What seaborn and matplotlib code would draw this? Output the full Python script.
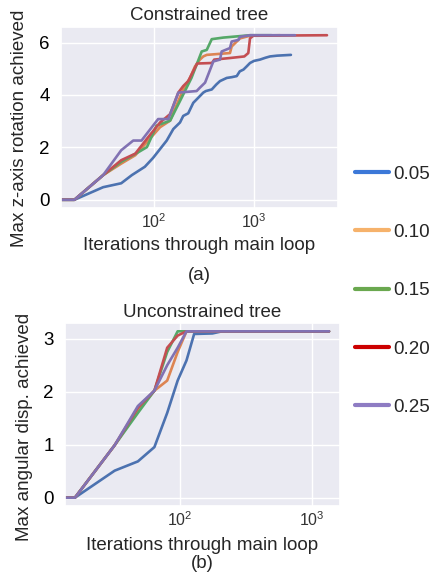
import numpy as np
import pandas as pd
import seaborn as sns
import matplotlib.pyplot as plt
from matplotlib.lines import Line2D

# step sizes
steps = ["0.05", "0.10", "0.15", "0.20", "0.25"]

# (a) constrained tree: iterations / max z-axis rotation
a_it_05 = [1, 16, 31, 47, 60, 81, 98, 134, 156, 182, 196, 220, 247, 270, 311, 330, 378, 420, 457,
           534, 600, 672, 720, 785, 850, 912, 1000, 1148, 1300, 1445, 1700, 2340]
a_val_05 = [0, 0, 0.48, 0.63, 0.94, 1.26, 1.6, 2.26, 2.7, 2.95, 3.2, 3.3, 3.7, 3.85, 4.09, 4.15, 4.21, 4.4, 4.53,
            4.65, 4.68, 4.72, 4.9, 4.97, 5.1, 5.22, 5.3, 5.35, 5.42, 5.47, 5.5, 5.53]
a_it_10 = [1, 16, 31, 47, 65, 85, 115, 145, 175, 196, 229, 257, 288, 311, 337, 575, 598, 672, 724, 912, 1820]
a_val_10 = [0, 0, 0.94, 1.38, 1.70, 2.2, 2.77, 3.02, 3.77, 4.21, 4.65, 5.09, 5.35, 5.47, 5.53, 5.6, 5.85, 6.04,
            6.16, 6.26, 6.28]
a_it_15 = [1, 16, 31, 47, 70, 85, 106, 145, 182, 237, 267, 300, 337, 378, 493, 912, 1500]
a_val_15 = [0, 0, 0.94, 1.45, 1.82, 2.01, 2.83, 3.02, 3.77, 4.65, 5.16, 5.66, 5.72, 6.13, 6.19, 6.28, 6.28]
a_it_20 = [1, 16, 31, 47, 65, 85, 115, 145, 175, 196, 220, 247, 270, 380, 400, 575, 800, 877, 912, 984, 5370]
a_val_20 = [0, 0, 0.94, 1.51, 1.76, 2.33, 2.95, 3.27, 4.09, 4.34, 4.53, 4.91, 5.2, 5.22, 5.35, 5.41, 5.47, 5.6,
            6.16, 6.26, 6.28]
a_it_25 = [1, 16, 31, 47, 62, 75, 110, 139, 175, 267, 288, 324, 392, 457, 475, 575, 598, 697, 724, 912, 2570]
a_val_25 = [0, 0, 0.94, 1.89, 2.26, 2.26, 3.08, 3.08, 4.09, 4.15, 4.28, 4.47, 5.28, 5.35, 5.66, 5.79, 6.04, 6.1,
            6.22, 6.28, 6.28]

# (b) unconstrained tree: iterations / max angular displacement
b_it_05 = [1, 16, 32, 48, 64, 80, 96, 112, 128, 176, 208, 1345]
b_val_05 = [0, 0, 0.51, 0.685, 0.955, 1.6, 2.21, 2.59, 3.09, 3.1, 3.14, 3.14]
b_it_10 = [1, 16, 32, 48, 64, 80, 96, 112, 1345]
b_val_10 = [0, 0, 0.99, 1.65, 2.02, 2.21, 2.75, 3.14, 3.14]
b_it_15 = [1, 16, 32, 48, 64, 80, 96, 1345]
b_val_15 = [0, 0, 0.99, 1.6, 2.02, 2.75, 3.14, 3.14]
b_it_20 = [1, 16, 32, 48, 64, 80, 96, 112, 1345]
b_val_20 = [0, 0, 0.99, 1.7, 2.02, 2.83, 3.06, 3.14, 3.14]
b_it_25 = [1, 16, 32, 48, 64, 80, 96, 112, 1345]
b_val_25 = [0, 0, 0.99, 1.73, 2.02, 2.5, 2.83, 3.14, 3.14]

legend_colors = ["#3c78d8", "#f6b26b", "#6aa84f", "#cc0000", "#8e7cc3"]


def long_df(its, vals):
    frames = []
    for s, x, y in zip(steps, its, vals):
        frames.append(pd.DataFrame({"it": x, "val": y, "step": s}))
    return pd.concat(frames, ignore_index=True)


df_a = long_df([a_it_05, a_it_10, a_it_15, a_it_20, a_it_25],
               [a_val_05, a_val_10, a_val_15, a_val_20, a_val_25])
df_b = long_df([b_it_05, b_it_10, b_it_15, b_it_20, b_it_25],
               [b_val_05, b_val_10, b_val_15, b_val_20, b_val_25])

sns.set_theme(style="darkgrid")
plt.rcParams["font.family"] = ["Liberation Sans", "DejaVu Sans"]
fs = 13.5

fig = plt.figure(figsize=(4.35, 5.78), dpi=100)
ax1 = fig.add_axes([61 / 435, 1 - 208 / 578, 277 / 435, 181 / 578])
ax2 = fig.add_axes([65 / 435, 1 - 506 / 578, 275 / 435, 183 / 578])

panels = [
    (ax1, df_a, "Constrained tree", "Max z-axis rotation achieved", (10 ** 1.07, 10 ** 3.84), 4.7),
    (ax2, df_b, "Unconstrained tree", "Max angular disp. achieved", (10 ** 1.129, 10 ** 3.212), 4.0),
]

for ax, df, title, ylab, xl, tpad in panels:
    sns.lineplot(data=df, x="it", y="val", hue="step", hue_order=steps, palette="deep",
                 estimator=None, sort=False, linewidth=1.9, legend=False, ax=ax)
    ax.set_xscale("log")
    ax.set_xlim(*xl)
    ax.minorticks_off()
    ax.set_title(title, fontsize=fs, pad=tpad)
    ax.set_ylabel(ylab, fontsize=fs)
    ax.set_xlabel("Iterations through main loop", fontsize=fs)
    ax.tick_params(axis="y", length=0, labelsize=fs, pad=8, labelcolor="black")
    ax.tick_params(axis="x", length=0, labelsize=11.5, pad=3, labelcolor="#333333")
    ax.yaxis.label.set_verticalalignment("center")
    ax.xaxis.label.set_verticalalignment("center")

ax1.yaxis.set_label_coords(-41 / 277, 0.439)
ax2.yaxis.set_label_coords(-40 / 275, 0.434)
ax1.xaxis.set_label_coords(0.5, -38 / 181)
ax2.xaxis.set_label_coords(0.5, -39 / 183)
ax1.text(0.5, -67 / 181, "(a)", transform=ax1.transAxes, ha="center", va="center", fontsize=fs)
ax2.text(0.5, -57 / 183, "(b)", transform=ax2.transAxes, ha="center", va="center", fontsize=fs)

handles = [Line2D([0], [0], color=c, lw=3) for c in legend_colors]
fig.legend(handles, steps, loc="center left", bbox_to_anchor=(355 / 435, 0.497), frameon=False,
           fontsize=fs, handlelength=1.8, handletextpad=0.25, labelspacing=2.2,
           borderpad=0, borderaxespad=0)

fig.savefig("out.png", dpi=100)
